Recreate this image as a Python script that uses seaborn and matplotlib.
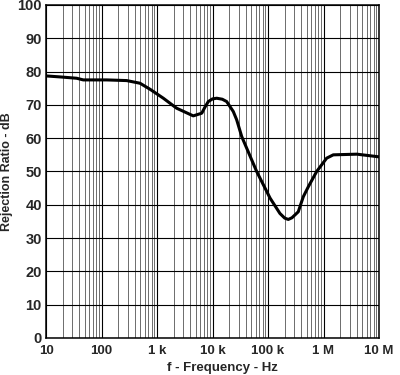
import numpy as np
import pandas as pd
import matplotlib
matplotlib.use("Agg")
import matplotlib.pyplot as plt
import seaborn as sns
from matplotlib.ticker import LogLocator, FixedLocator, FixedFormatter, NullFormatter

# Values
freq_hz = [10, 17.9, 35.7, 47, 124, 284, 494, 748, 1300, 2260, 4500, 6400,
           7300, 8400, 10000, 11900, 15000, 18000, 23700, 27300, 33600, 41300,
           62500, 109000, 164000, 200000, 232000, 270000, 351000, 432000,
           532000, 753000, 1140000, 1500000, 4000000, 10000000]
rejection_db = [78.7, 78.4, 78.0, 77.5, 77.5, 77.3, 76.5, 74.7, 72.0, 69.0,
                66.7, 67.5, 69.3, 71.0, 71.8, 72.0, 71.7, 71.0, 68.0, 65.5,
                60.5, 57.0, 50.0, 42.0, 37.4, 36.0, 35.6, 36.1, 37.9, 42.4,
                45.4, 50.0, 54.0, 55.0, 55.2, 54.4]

x_ticks = [10, 100, 1e3, 1e4, 1e5, 1e6, 1e7]
x_tick_labels = ["10", "100", "1 k", "10 k", "100 k", "1 M", "10 M"]
y_ticks = list(range(0, 101, 10))

sns.set_style("white")
plt.rcParams['font.family'] = ['Liberation Sans', 'DejaVu Sans']
plt.rcParams['font.weight'] = 'bold'

df = pd.DataFrame({"f": freq_hz, "rr": rejection_db})

fig = plt.figure(figsize=(4.0, 3.75), dpi=100)
ax = fig.add_axes([0.115, 0.0987, 0.8325, 0.888])

sns.lineplot(data=df, x="f", y="rr", ax=ax, color="black", linewidth=2.2,
             solid_joinstyle="round", solid_capstyle="round")

ax.set_xscale("log")
ax.set_xlim(10, 1e7)
ax.set_ylim(0, 100)

ax.xaxis.set_major_locator(FixedLocator(x_ticks))
ax.xaxis.set_major_formatter(FixedFormatter(x_tick_labels))
ax.xaxis.set_minor_locator(LogLocator(base=10, subs=np.arange(2, 10), numticks=20))
ax.xaxis.set_minor_formatter(NullFormatter())
ax.set_yticks(y_ticks)

ax.grid(True, which="major", axis="both", color="black", linewidth=0.8)
ax.grid(True, which="minor", axis="x", color="#555555", linewidth=0.6)
ax.set_axisbelow(True)

ax.tick_params(axis="y", which="both", length=0, labelsize=10.5, pad=3)
ax.tick_params(axis="x", which="both", length=0, labelsize=9.5, pad=5)
for lbl in ax.get_xticklabels() + ax.get_yticklabels():
    lbl.set_fontweight("bold")

for s in ax.spines.values():
    s.set_color("black")
    s.set_linewidth(1.1)

ax.set_xlabel("f - Frequency - Hz", fontsize=9.5, fontweight="bold")
ax.set_ylabel("Rejection Ratio - dB", fontsize=9, fontweight="bold")
ax.xaxis.set_label_coords(0.53, -0.071)
ax.yaxis.set_label_coords(-0.098, 0.5)

fig.savefig("out.png", dpi=100)
